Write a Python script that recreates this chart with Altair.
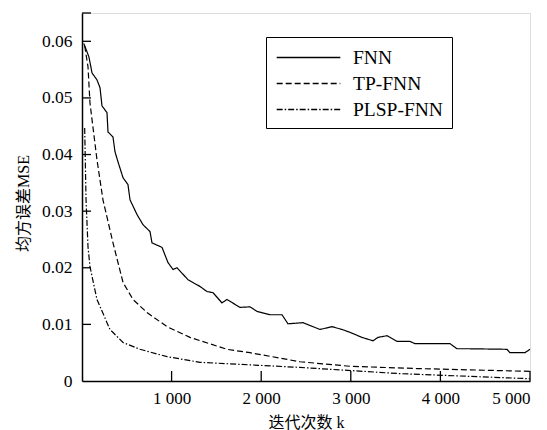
import altair as alt
import pandas as pd

# FNN (solid)
fnn_x = [20, 45, 78, 112, 167, 201, 223, 279, 290, 346, 368, 402, 458, 513, 536, 614, 681, 759, 781, 893,
         960, 1016, 1060, 1183, 1317, 1395, 1462, 1562, 1618, 1763, 1875, 1953, 2098, 2232, 2299, 2466,
         2578, 2656, 2790, 2902, 2991, 3125, 3248, 3303, 3404, 3515, 3660, 3716, 4107, 4185, 4297, 4743,
         4776, 4944, 5000]
fnn_y = [0.0596, 0.0586, 0.0572, 0.0544, 0.0532, 0.0518, 0.0486, 0.0474, 0.0440, 0.0431, 0.0405, 0.0387,
         0.0359, 0.0347, 0.0320, 0.0294, 0.0276, 0.0264, 0.0244, 0.0236, 0.0209, 0.0197, 0.0200, 0.0179,
         0.0167, 0.0158, 0.0156, 0.0138, 0.0144, 0.0130, 0.0131, 0.0123, 0.0117, 0.0117, 0.0101, 0.0103,
         0.0096, 0.0091, 0.0096, 0.0091, 0.0086, 0.0077, 0.0071, 0.0077, 0.0080, 0.0070, 0.0070, 0.0066,
         0.0066, 0.0057, 0.0057, 0.0056, 0.0050, 0.0050, 0.0056]

# TP-FNN (dashed)
tp_x = [30, 67, 89, 167, 234, 346, 458, 569, 725, 949, 1205, 1618, 1875, 2433, 2991, 3739, 5000]
tp_y = [0.0592, 0.0555, 0.0491, 0.0391, 0.0320, 0.0244, 0.0174, 0.0144, 0.0121, 0.0096, 0.0077,
        0.0056, 0.0050, 0.0034, 0.0026, 0.0022, 0.0017]

# PLSP-FNN (dash-dot)
pl_x = [30, 45, 67, 89, 167, 312, 458, 647, 949, 1317, 2433, 3549, 5000]
pl_y = [0.0447, 0.0320, 0.0237, 0.0202, 0.0144, 0.0091, 0.0068, 0.0056, 0.0043, 0.0033, 0.0024,
        0.0013, 0.0004]

series = ["FNN", "TP-FNN", "PLSP-FNN"]
y_ticks = [0, 0.01, 0.02, 0.03, 0.04, 0.05, 0.06]
x_ticks = [1000, 2000, 3000, 4000, 5000]
y_inner_ticks = [0.01, 0.02, 0.03, 0.04, 0.05, 0.06, 0.065]

rows = []
for name, xs, ys in [("FNN", fnn_x, fnn_y), ("TP-FNN", tp_x, tp_y), ("PLSP-FNN", pl_x, pl_y)]:
    for i, (a, b) in enumerate(zip(xs, ys)):
        rows.append({"k": a, "mse": b, "series": name, "order": i})
df = pd.DataFrame(rows)

SERIF = "Liberation Serif"
MIXED = "'Liberation Serif', 'Noto Sans CJK SC', serif"

xscale = alt.Scale(domain=[0, 5000], nice=False, zero=True)
yscale = alt.Scale(domain=[0, 0.065], nice=False, zero=True)

xaxis = alt.Axis(
    values=x_ticks, title="迭代次数 k", tickSize=0, labelPadding=9,
    labelExpr="replace(format(datum.value, ','), ',', ' ')",
    labelFont=SERIF, labelFontSize=17, labelColor="black",
    titleFont=MIXED, titleColor="black",
    titleY=41, titleBaseline="middle", titleFontWeight="normal",
    titleFontSize=16, grid=False, domainColor="black", domainWidth=1.5)
yaxis = alt.Axis(
    values=y_ticks, title="均方误差MSE", tickSize=0, labelPadding=10,
    labelExpr="datum.value == 0 ? '0' : format(datum.value, '.2f')",
    labelFont=SERIF, labelFontSize=17.5, labelColor="black",
    titleFont=MIXED, titleColor="black",
    titleX=-59, titleY=190, titleAlign="center", titleBaseline="middle",
    titleFontWeight="normal", titleFontSize=16, grid=False,
    domainColor="black", domainWidth=1.5)

lines = alt.Chart(df).mark_line(color="black", strokeWidth=1.2).encode(
    x=alt.X("k:Q", scale=xscale, axis=xaxis),
    y=alt.Y("mse:Q", scale=yscale, axis=yaxis),
    strokeDash=alt.StrokeDash("series:N", scale=alt.Scale(
        domain=series, range=[[1, 0], [6, 3], [6, 2, 1.5, 2]]),
        legend=alt.Legend(
            title=None, orient="none", legendX=184, legendY=24,
            strokeColor="black", padding=9,
            symbolType="M-3,0H3",
            symbolSize=450, symbolStrokeWidth=1.3, symbolStrokeColor="black",
            labelFont=SERIF, labelFontSize=19.5, labelColor="black",
            labelFontWeight="normal",
            rowPadding=5, labelOffset=33, symbolOffset=22)),
    order="order:Q",
    detail="series:N",
)

ytick_df = pd.DataFrame({"v": y_inner_ticks})
xtick_df = pd.DataFrame({"v": x_ticks})

yt = alt.Chart(ytick_df).mark_rule(color="black", strokeWidth=1.3).encode(
    y=alt.Y("v:Q", scale=yscale, axis=yaxis), x=alt.value(0), x2=alt.value(9))
xt = alt.Chart(xtick_df).mark_rule(color="black", strokeWidth=1.3).encode(
    x=alt.X("v:Q", scale=xscale, axis=xaxis), y=alt.value(368), y2=alt.value(358))

chart = alt.layer(lines, yt, xt).properties(
    width=448, height=368,
    autosize=alt.AutoSizeParams(type="none"),
    padding={"left": 74, "top": 5, "right": 9, "bottom": 49},
).configure_view(stroke=None).configure(background="white")

chart.save("out.html", embed_options={"renderer": "svg", "actions": False})
